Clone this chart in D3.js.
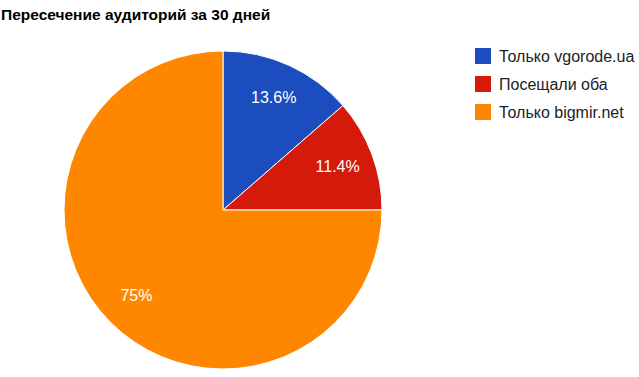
<!DOCTYPE html>
<html>
<head>
<meta charset="utf-8">
<script src="https://cdn.jsdelivr.net/npm/d3@7"></script>
<style>
  body { margin: 0; background: #fff; }
  svg text { font-family: "Liberation Sans", Arial, sans-serif; }
</style>
</head>
<body>
<div id="chart"></div>
<script>
// data
const categories = ["Только vgorode.ua", "Посещали оба", "Только bigmir.net"];
const values = [13.6, 11.4, 75];
const labels = ["13.6%", "11.4%", "75%"];
const colors = ["#1b4dbe", "#d41a0a", "#ff8700"];
const title = "Пересечение аудиторий за 30 дней";

const width = 639, height = 377;
const cx = 223, cy = 210, radius = 159;

const svg = d3.select("#chart").append("svg")
    .attr("width", width)
    .attr("height", height);

svg.append("text")
    .attr("x", 1)
    .attr("y", 20)
    .attr("font-size", 15.5)
    .attr("font-weight", "bold")
    .attr("fill", "#000")
    .text(title);

const color = d3.scaleOrdinal().domain(categories).range(colors);

const pie = d3.pie().sort(null).value(d => d.value);
const data = categories.map((c, i) => ({ key: c, value: values[i], label: labels[i] }));

const arc = d3.arc().innerRadius(0).outerRadius(radius);
const labelArc = d3.arc().innerRadius(radius * 0.77).outerRadius(radius * 0.77);

const g = svg.append("g").attr("transform", `translate(${cx},${cy})`);

const slices = g.selectAll("g.slice").data(pie(data)).enter()
    .append("g").attr("class", "slice");

slices.append("path")
    .attr("d", arc)
    .attr("fill", d => color(d.data.key))
    .attr("stroke", "#fff")
    .attr("stroke-width", 1);

slices.append("text")
    .attr("transform", d => `translate(${labelArc.centroid(d)})`)
    .attr("text-anchor", "middle")
    .attr("dy", "0.3em")
    .attr("font-size", 16)
    .attr("fill", "#fff")
    .text(d => d.data.label);

// legend
const legend = svg.append("g").attr("transform", "translate(475,48)");
const rows = legend.selectAll("g").data(categories).enter()
    .append("g")
    .attr("transform", (d, i) => `translate(0,${i * 28})`);

rows.append("rect")
    .attr("width", 16)
    .attr("height", 16)
    .attr("fill", d => color(d));

rows.append("text")
    .attr("x", 24)
    .attr("y", 14)
    .attr("font-size", 16)
    .attr("fill", "#222")
    .text(d => d);
</script>
</body>
</html>
